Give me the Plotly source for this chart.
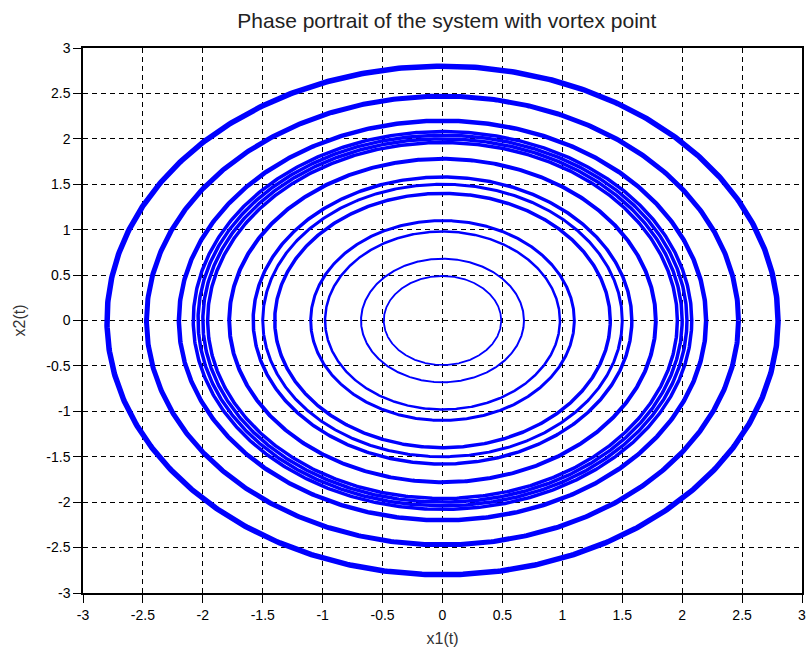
import numpy as np
import plotly.graph_objects as go

# Radii of the closed orbits and their drawn thickness
radii = [0.49, 0.68, 0.98, 1.10, 1.40, 1.50, 1.58, 1.78, 1.96, 2.00, 2.04, 2.08, 2.20, 2.47, 2.80]
widths = [1.8, 2.0, 2.5, 3.0, 3.5, 3.0, 3.5, 4.0, 3.5, 3.5, 3.5, 3.5, 4.5, 5.0, 5.5]
tick_vals = [-3, -2.5, -2, -1.5, -1, -0.5, 0, 0.5, 1, 1.5, 2, 2.5, 3]
tick_text = ["-3", "-2.5", "-2", "-1.5", "-1", "-0.5", "0", "0.5", "1", "1.5", "2", "2.5", "3"]

theta = np.linspace(0, 2 * np.pi, 721)

FONT = "Liberation Sans, Arial, sans-serif"

fig = go.Figure()
for r, w in zip(radii, widths):
    fig.add_trace(go.Scatter(
        x=r * np.cos(theta), y=r * np.sin(theta), mode="lines",
        line=dict(color="#0000FF", width=w), showlegend=False, hoverinfo="skip"))

axis_common = dict(
    range=[-3, 3], tickvals=tick_vals, ticktext=tick_text, automargin=False,
    showgrid=True, gridcolor="black", gridwidth=1, griddash="5px,4px",
    zeroline=False, showline=True, linecolor="black", linewidth=1.5, mirror=True,
    ticks="outside", ticklen=8, tickcolor="black", tickwidth=1.2,
    ticklabeloverflow="allow",
    tickfont=dict(family=FONT, size=14, color="black"),
)

fig.update_layout(
    width=809, height=655,
    margin=dict(l=83, r=7, t=48, b=62, autoexpand=False),
    paper_bgcolor="white", plot_bgcolor="white",
    title=dict(text="Phase portrait of the system with vortex point",
               xref="paper", x=0.506, xanchor="center",
               yref="container", y=1 - 21 / 655, yanchor="middle", automargin=False,
               font=dict(family=FONT, size=21, color="#222")),
    xaxis=dict(**axis_common,
               title=dict(text="x1(t)", standoff=11,
                          font=dict(family=FONT, size=16, color="#333"))),
    yaxis=dict(**axis_common,
               title=dict(text="x2(t)", standoff=17,
                          font=dict(family=FONT, size=16, color="#333"))),
)

fig.write_html("out.html", config={"displayModeBar": False})

# remove the browser's default 8px body margin so the figure sits at the page origin
with open("out.html", "r", encoding="utf-8") as f:
    html = f.read()
html = html.replace("<head>", "<head><style>html,body{margin:0;padding:0;}</style>", 1)
with open("out.html", "w", encoding="utf-8") as f:
    f.write(html)
